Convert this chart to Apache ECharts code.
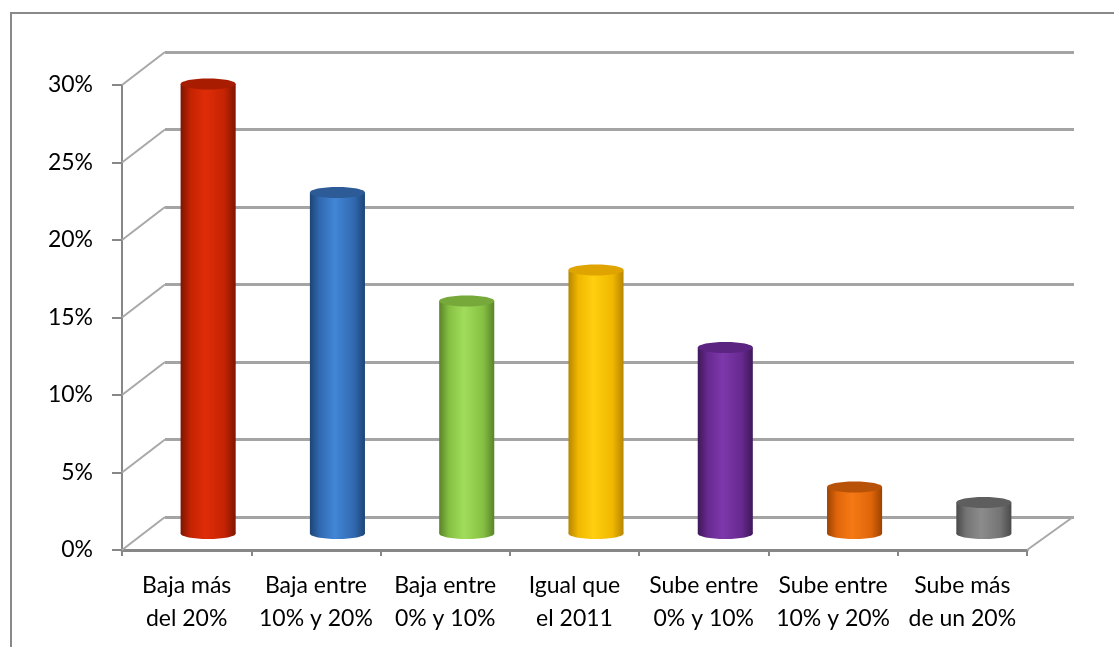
<!DOCTYPE html>
<html>
<head>
<meta charset="utf-8">
<title>Variación</title>
<script src="https://cdn.jsdelivr.net/npm/echarts@6/dist/echarts.min.js"></script>
<style>
  html, body { margin: 0; padding: 0; background: #fff; }
  #chart { width: 1114px; height: 647px; }
</style>
</head>
<body>
<div id="chart"></div>
<script type="text/javascript">
    // categorias (eje x)
    var categorias = [
        'Baja más\ndel 20%',
        'Baja entre\n10% y 20%',
        'Baja entre\n0% y 10%',
        'Igual que\nel 2011',
        'Sube entre\n0% y 10%',
        'Sube entre\n10% y 20%',
        'Sube más\nde un 20%'
    ];
    // porcentaje de respuestas
    var valores = [29, 22, 15, 17, 12, 3, 2];
    // marcas del eje y
    var marcasY = [0, 5, 10, 15, 20, 25, 30];

    // colores de los cilindros: [borde oscuro, medio, claro, tapa]
    var colores = [
        ['#7e1600', '#c42303', '#e02c08', '#a81d02'],
        ['#1d4576', '#3169b0', '#4186d6', '#2c5b98'],
        ['#5a8428', '#86c043', '#a1dd5c', '#76a83a'],
        ['#b88600', '#f0b800', '#ffcf10', '#e0a400'],
        ['#3e1859', '#67298f', '#7d38ab', '#5a2480'],
        ['#9c4300', '#e0650a', '#f57a14', '#b85208'],
        ['#4a4a4a', '#747474', '#8c8c8c', '#5e5e5e']
    ];

    // desplazamiento de profundidad (pared del fondo)
    var DX = 43, DY = -33;

    var myChart = echarts.init(document.getElementById('chart'));

    var fuente = 'Lato';

    var option = {
        backgroundColor: '#ffffff',
        animation: false,
        graphic: [{
            type: 'rect',
            shape: { x: 11, y: 13, width: 1130, height: 700 },
            style: { fill: 'none', stroke: '#898989', lineWidth: 2 },
            silent: true,
            z: 0
        }],
        grid: [
            // frente
            { left: 122, top: 85, width: 905, height: 465 },
            // fondo
            { left: 165, top: 52, width: 909, height: 465 }
        ],
        xAxis: [
            {
                type: 'category',
                gridIndex: 0,
                data: categorias,
                axisLine: { show: true, lineStyle: { color: '#878787', width: 3 } },
                axisTick: { show: true, length: 6, lineStyle: { color: '#878787', width: 2 } },
                axisLabel: {
                    color: '#000',
                    fontFamily: fuente,
                    fontSize: 23,
                    lineHeight: 33,
                    margin: 19,
                    interval: 0
                },
                splitLine: { show: false }
            },
            {
                type: 'category',
                gridIndex: 1,
                data: categorias,
                show: false
            }
        ],
        yAxis: [
            {
                type: 'value',
                gridIndex: 0,
                min: 0,
                max: 30,
                interval: 5,
                axisLine: { show: true, lineStyle: { color: '#878787', width: 2 } },
                axisTick: { show: true, length: 10, lineStyle: { color: '#878787', width: 2 } },
                axisLabel: {
                    formatter: '{value}%',
                    color: '#000',
                    fontFamily: fuente,
                    fontSize: 23,
                    margin: 29
                },
                splitLine: { show: false }
            },
            {
                type: 'value',
                gridIndex: 1,
                min: 0,
                max: 30,
                interval: 5,
                axisLine: { show: false },
                axisTick: { show: false },
                axisLabel: { show: false },
                splitLine: { show: true, lineStyle: { color: '#a4a4a4', width: 3 } }
            }
        ],
        series: [
            // diagonales de la pared lateral y del suelo
            {
                type: 'custom',
                xAxisIndex: 0,
                yAxisIndex: 0,
                silent: true,
                z: 1,
                data: marcasY.map(function(v) { return [0, v]; }),
                renderItem: function(params, api) {
                    var v = api.value(1);
                    var p = api.coord([0, v]);
                    var banda = api.size([1, 0])[0];
                    var x0 = p[0] - banda / 2;
                    var hijos = [{
                        type: 'line',
                        shape: { x1: x0, y1: p[1], x2: x0 + DX, y2: p[1] + DY },
                        style: { stroke: '#a8a8a8', lineWidth: 2 }
                    }];
                    if (v === 0) {
                        var q = api.coord([categorias.length - 1, 0]);
                        var x1 = q[0] + banda / 2;
                        hijos.push({
                            type: 'line',
                            shape: { x1: x1, y1: q[1], x2: x1 + DX + 3, y2: q[1] + DY },
                            style: { stroke: '#a8a8a8', lineWidth: 2 }
                        });
                    }
                    return { type: 'group', children: hijos };
                }
            },
            // cilindros
            {
                type: 'custom',
                name: 'Porcentaje',
                xAxisIndex: 0,
                yAxisIndex: 0,
                z: 5,
                data: valores.map(function(v, i) { return [i, v]; }),
                renderItem: function(params, api) {
                    var i = api.value(0);
                    var v = api.value(1);
                    var arriba = api.coord([i, v]);
                    var abajo = api.coord([i, 0]);
                    var banda = api.size([1, 0])[0];
                    var cx = arriba[0] + DX / 2;
                    var yTop = arriba[1] + DY / 2;
                    var yBot = abajo[1] + DY / 2;
                    var rx = banda * 0.213;
                    var ry = 5.5;
                    var c = colores[i];
                    var grad = new echarts.graphic.LinearGradient(0, 0, 1, 0, [
                        { offset: 0, color: c[0] },
                        { offset: 0.18, color: c[1] },
                        { offset: 0.45, color: c[2] },
                        { offset: 0.8, color: c[1] },
                        { offset: 1, color: c[0] }
                    ]);
                    return {
                        type: 'group',
                        children: [
                            {
                                type: 'ellipse',
                                shape: { cx: cx, cy: yBot, rx: rx, ry: ry },
                                style: { fill: grad }
                            },
                            {
                                type: 'rect',
                                shape: { x: cx - rx, y: yTop, width: rx * 2, height: yBot - yTop },
                                style: { fill: grad }
                            },
                            {
                                type: 'ellipse',
                                shape: { cx: cx, cy: yTop, rx: rx, ry: ry },
                                style: { fill: c[3] }
                            }
                        ]
                    };
                }
            }
        ]
    };

    myChart.setOption(option);
</script>
</body>
</html>
